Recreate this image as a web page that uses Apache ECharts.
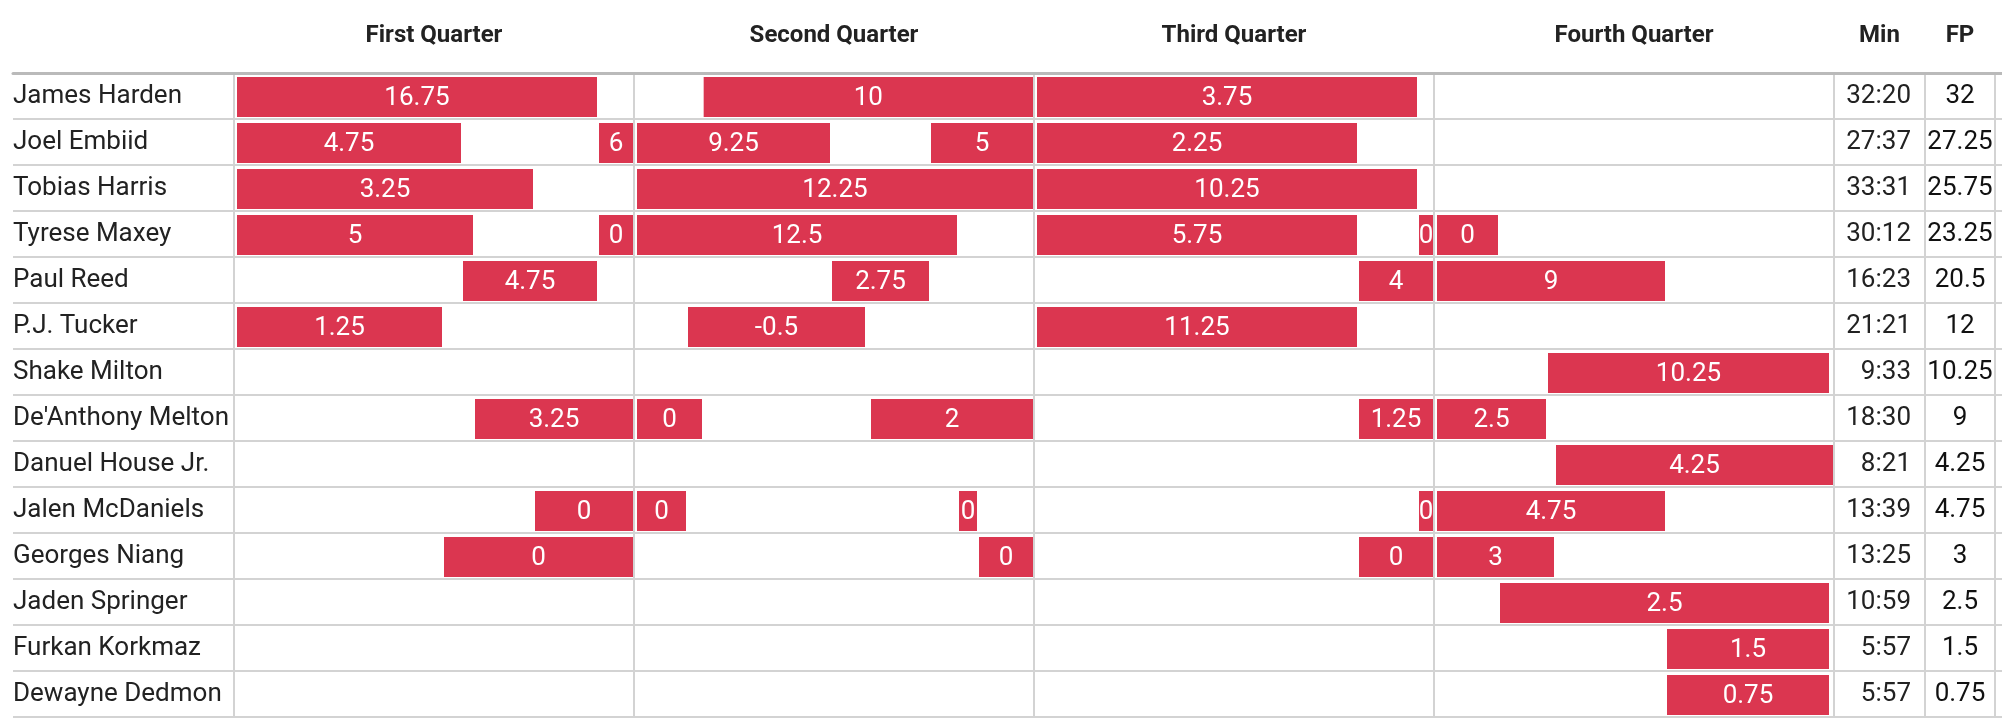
<!DOCTYPE html>
<html>
<head>
<meta charset="utf-8">
<script src="https://cdn.jsdelivr.net/npm/echarts@6/dist/echarts.min.js"></script>
<style>
  html, body { margin: 0; padding: 0; background: #ffffff; }
  #chart { width: 2002px; height: 720px; }
</style>
</head>
<body>
<div id="chart"></div>
<script>
// ---- data ----
const players = ['James Harden', 'Joel Embiid', 'Tobias Harris', 'Tyrese Maxey', 'Paul Reed', 'P.J. Tucker',
  'Shake Milton', "De'Anthony Melton", 'Danuel House Jr.', 'Jalen McDaniels', 'Georges Niang',
  'Jaden Springer', 'Furkan Korkmaz', 'Dewayne Dedmon'];
const minutesPlayed = ['32:20', '27:37', '33:31', '30:12', '16:23', '21:21', '9:33', '18:30', '8:21', '13:39', '13:25', '10:59', '5:57', '5:57'];
const fantasyPoints = ['32', '27.25', '25.75', '23.25', '20.5', '12', '10.25', '9', '4.25', '4.75', '3', '2.5', '1.5', '0.75'];
const quarterLabels = ['First Quarter', 'Second Quarter', 'Third Quarter', 'Fourth Quarter'];

// stints on court: player index, start (game minute), end (game minute), fantasy points in stint
const stintPlayer = [0, 0, 0,
  1, 1, 1, 1, 1,
  2, 2, 2,
  3, 3, 3, 3, 3, 3,
  4, 4, 4, 4,
  5, 5, 5,
  6,
  7, 7, 7, 7, 7,
  8,
  9, 9, 9, 9, 9,
  10, 10, 10, 10,
  11, 12, 13];
const stintStart = [0, 14.0, 24,
  0, 10.86, 12, 20.82, 24,
  0, 12, 24,
  0, 10.86, 12, 24, 35.46, 36,
  6.78, 17.85, 33.66, 36,
  0, 13.53, 24,
  39.33,
  7.14, 12, 19.02, 33.66, 36,
  39.57,
  8.94, 12, 21.66, 35.46, 36,
  6.21, 22.26, 33.66, 36,
  37.89, 42.9, 42.9];
const stintEnd = [10.92, 24, 35.52,
  6.84, 12, 17.91, 24, 33.72,
  9.0, 24, 35.52,
  7.2, 12, 21.72, 33.72, 36, 37.95,
  10.92, 20.88, 36, 42.96,
  6.27, 18.96, 33.72,
  47.88,
  12, 14.07, 24, 36, 39.39,
  48,
  12, 13.59, 22.32, 36, 42.96,
  12, 24, 36, 39.63,
  47.88, 47.88, 47.88];
const stintFP = [16.75, 10, 3.75,
  4.75, 6, 9.25, 5, 2.25,
  3.25, 12.25, 10.25,
  5, 0, 12.5, 5.75, 0, 0,
  4.75, 2.75, 4, 9,
  1.25, -0.5, 11.25,
  10.25,
  3.25, 0, 2, 1.25, 2.5,
  4.25,
  0, 0, 0, 0, 4.75,
  0, 0, 0, 3,
  2.5, 1.5, 0.75];

// ---- build ----
const stintData = stintPlayer.map((p, i) => [p, stintStart[i], stintEnd[i], stintFP[i]]);
const rowIdx = players.map((_, i) => i);

const FONT = 'Roboto';
const BAR = '#db3650';
const GRID_LINE = '#d3d3d3';
const TXT = 26;
const HDR = 24;

const chart = echarts.init(document.getElementById('chart'), null, { renderer: 'canvas' });

const headerLabel = { interval: 0, margin: 37, verticalAlign: 'middle', color: '#222', fontFamily: FONT, fontWeight: 'bold', fontSize: HDR };

const option = {
  backgroundColor: '#ffffff',
  animation: false,
  grid: [
    { left: 234, top: 73, width: 1600, height: 644 },   // timeline
    { left: 13, right: 0, top: 73, height: 644 },       // row lines
    { left: 1834, top: 73, width: 91, height: 644 },    // Min
    { left: 1925, top: 73, width: 70, height: 644 }     // FP
  ],
  xAxis: [
    { gridIndex: 0, type: 'value', min: 0, max: 48, interval: 12, position: 'bottom',
      axisLine: { show: false }, axisTick: { show: false }, axisLabel: { show: false },
      splitLine: { show: true, lineStyle: { color: GRID_LINE, width: 2 } } },
    { gridIndex: 0, type: 'category', data: quarterLabels, position: 'top',
      axisLine: { show: false }, axisTick: { show: false }, splitLine: { show: false },
      axisLabel: headerLabel },
    { gridIndex: 1, type: 'value', min: 0, max: 1, position: 'top',
      axisLine: { show: true, onZero: false, lineStyle: { color: '#bababa', width: 3 } },
      axisTick: { show: false }, axisLabel: { show: false }, splitLine: { show: false } },
    { gridIndex: 2, type: 'category', data: ['Min'], position: 'top',
      axisLine: { show: false }, axisTick: { show: false }, axisLabel: headerLabel },
    { gridIndex: 3, type: 'category', data: ['FP'], position: 'top',
      axisLine: { show: false }, axisTick: { show: false }, axisLabel: headerLabel }
  ],
  yAxis: [
    { gridIndex: 0, type: 'category', data: players, inverse: true,
      axisLine: { show: false }, axisTick: { show: false }, splitLine: { show: false },
      axisLabel: { interval: 0, align: 'left', margin: 221, padding: [4, 0, 0, 0], color: '#222', fontFamily: FONT, fontSize: TXT } },
    { gridIndex: 1, type: 'category', data: rowIdx, inverse: true,
      axisLine: { show: false }, axisTick: { show: false }, axisLabel: { show: false },
      splitLine: { show: true, lineStyle: { color: GRID_LINE, width: 2 } } },
    { gridIndex: 2, type: 'category', data: rowIdx, inverse: true, position: 'right',
      axisLine: { show: true, onZero: false, lineStyle: { color: GRID_LINE, width: 2 } },
      axisTick: { show: false }, splitLine: { show: false },
      axisLabel: { interval: 0, inside: true, margin: 14, align: 'right', padding: [4, 0, 0, 0], color: '#222', fontFamily: FONT, fontSize: TXT,
        formatter: (v, i) => minutesPlayed[i] } },
    { gridIndex: 3, type: 'category', data: rowIdx, inverse: true, position: 'right',
      axisLine: { show: true, onZero: false, lineStyle: { color: GRID_LINE, width: 2 } },
      axisTick: { show: false }, splitLine: { show: false },
      axisLabel: { interval: 0, inside: true, margin: 35, align: 'center', padding: [4, 0, 0, 0], color: '#111', fontFamily: FONT, fontSize: TXT,
        formatter: (v, i) => fantasyPoints[i] } }
  ],
  series: [
    {
      type: 'custom',
      xAxisIndex: 0,
      yAxisIndex: 0,
      data: stintData,
      encode: { x: [1, 2], y: 0 },
      renderItem: function (params, api) {
        const row = api.value(0);
        const p0 = api.coord([api.value(1), row]);
        const p1 = api.coord([api.value(2), row]);
        const h = 40;
        const x = p0[0] + 3;
        const w = Math.max(1, p1[0] - p0[0] - 4);
        const y = p0[1] - h / 2 + 1;
        return {
          type: 'rect',
          shape: { x: x, y: y, width: w, height: h },
          style: { fill: BAR },
          textContent: {
            style: { text: String(api.value(3)), fill: '#ffffff', fontFamily: FONT, fontSize: TXT }
          },
          textConfig: { position: 'inside', offset: [0, 1] }
        };
      }
    }
  ]
};

chart.setOption(option);
</script>
</body>
</html>
